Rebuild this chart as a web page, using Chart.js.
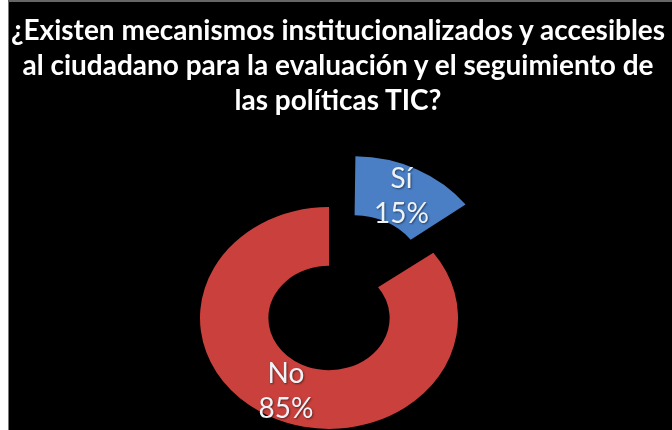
<!DOCTYPE html>
<html>
<head>
<meta charset="utf-8">
<script src="https://cdn.jsdelivr.net/npm/chart.js@4"></script>
<style>
  html, body { margin: 0; padding: 0; background: #000; }
  #wrap { position: relative; width: 672px; height: 430px; overflow: hidden; background: #000; }
  #strip { position: absolute; left: 0; top: 0; width: 8px; height: 430px; background: #fff; }
  #edge { position: absolute; left: 8px; top: 0; width: 1px; height: 430px; background: #777; }
  #topline { position: absolute; left: 8px; top: 0; width: 664px; height: 2px; background: #666; }
  #titulo {
    position: absolute; left: 0px; top: 12px; width: 676px;
    text-align: center; color: #fff; white-space: nowrap;
    font-family: Lato, "Open Sans", sans-serif; font-weight: bold;
    font-size: 28px; line-height: 35px;
  }
  #chartPizza { position: absolute; left: 0; top: 0; }
</style>
</head>
<body>
<div id="wrap">
  <canvas id="chartPizza" width="672" height="430"></canvas>
  <div id="strip"></div>
  <div id="edge"></div>
  <div id="topline"></div>
  <div id="titulo">¿Existen mecanismos institucionalizados y accesibles<br>al ciudadano para la evaluación y el seguimiento de<br>las políticas TIC?</div>
</div>
<script>
// dados do gráfico
const rotulos = ["Sí", "No"];
const valores = [15, 85];
const cores = ["#4a7fc6", "#c9403c"];
const destaque = [218, 0];

// achatamento vertical (perspectiva do slide)
const escalaY = 0.86;

const pluginRosca = {
  id: "rosca",
  beforeDatasetsDraw(chart) {
    const arc = chart.getDatasetMeta(0).data[0];
    const ctx = chart.ctx;
    ctx.save();
    ctx.translate(arc.x, arc.y);
    ctx.scale(1, escalaY);
    ctx.translate(-arc.x, -arc.y);
  },
  afterDatasetsDraw(chart) {
    const ctx = chart.ctx;
    ctx.restore();

    // rótulos: nome + percentual
    const arcs = chart.getDatasetMeta(0).data;
    const total = valores.reduce((a, b) => a + b, 0);
    ctx.save();
    ctx.font = "28px Lato, 'Open Sans', sans-serif";
    ctx.fillStyle = "#eef3f8";
    ctx.textAlign = "center";
    ctx.textBaseline = "middle";
    ctx.shadowColor = "rgba(0,0,0,0.5)";
    ctx.shadowBlur = 2;
    ctx.shadowOffsetX = 1;
    ctx.shadowOffsetY = 1;
    arcs.forEach((a, i) => {
      const meio = (a.startAngle + a.endAngle) / 2;
      const circ = a.endAngle - a.startAngle;
      const off = (destaque[i] || 0) / 4;
      const fix = 1 - Math.sin(Math.min(Math.PI, circ));
      const desloc = off * (1 + fix);
      const r = (a.innerRadius + a.outerRadius) / 2 + desloc;
      const x = a.x + Math.cos(meio) * r;
      const y = a.y + Math.sin(meio) * r * escalaY;
      const pct = Math.round((valores[i] / total) * 100) + "%";
      ctx.fillText(rotulos[i], x, y - 17);
      ctx.fillText(pct, x, y + 18);
    });
    ctx.restore();
  },
};

new Chart(document.getElementById("chartPizza"), {
  type: "doughnut",
  data: {
    labels: rotulos,
    datasets: [
      {
        data: valores,
        backgroundColor: cores,
        borderWidth: 0,
        offset: destaque,
        clip: false,
      },
    ],
  },
  options: {
    responsive: false,
    animation: false,
    radius: 129,
    cutout: "47%",
    layout: {
      padding: { top: 206, bottom: 0, left: 0, right: 14 },
    },
    plugins: {
      legend: { display: false },
      title: { display: false },
      tooltip: { enabled: false },
    },
  },
  plugins: [pluginRosca],
});
</script>
</body>
</html>
